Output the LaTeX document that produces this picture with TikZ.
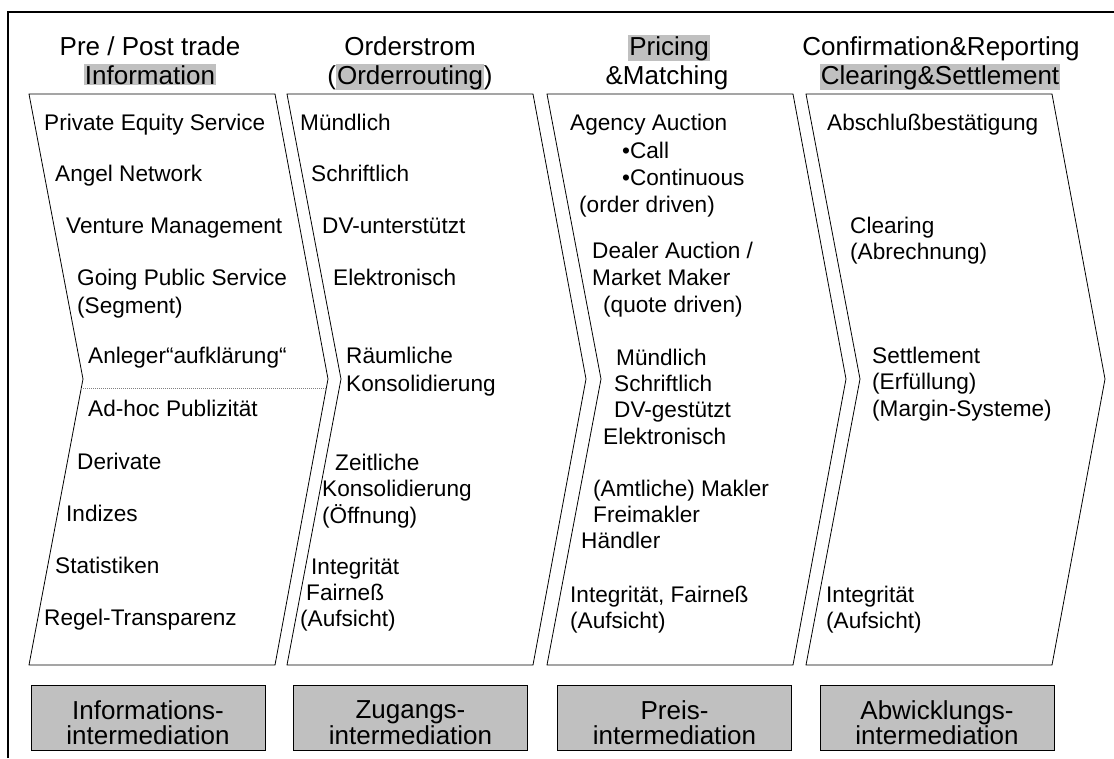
\documentclass[tikz,border=0pt]{standalone}
\usepackage{fontspec}
\setmainfont{Liberation Sans}
\definecolor{hlgray}{RGB}{192,192,192}
\newcommand\hlx[1]{{\setlength{\fboxsep}{1pt}\colorbox{hlgray}{#1}}}
\tikzset{
  body/.style={anchor=base west, inner sep=0pt, font=\fontsize{22.6}{26.5}\selectfont},
  head/.style={anchor=base, inner sep=0pt, font=\fontsize{26}{30}\selectfont},
  chev/.style={draw, line width=0.8pt, line join=miter},
  gbox/.style={draw, fill=hlgray, line width=0.8pt, minimum width=234pt, minimum height=65pt, inner sep=0pt},
  gtext/.style={align=center, inner sep=0pt, font=\fontsize{26}{25.5}\selectfont},
  frameline/.style={line width=1.5pt},
  sepline/.style={draw=gray, line width=0.6pt, dash pattern=on 1pt off 1pt}
}
\begin{document}
\begin{tikzpicture}[x=1pt,y=-1pt]
\useasboundingbox (0,0) rectangle (1114,758);
% frame
\coordinate (fbl) at (8,758);
\coordinate (ftl) at (8,12);
\coordinate (ftr) at (1114,12);
\draw[frameline] (fbl) -- (ftl) -- (ftr);
% chevrons
\foreach \L [count=\i] in {29,287,547,806}{
  \pgfmathsetmacro{\R}{\L+246}
  \draw[chev] (\L,94) -- (\R,94) -- (\R+53,379) -- (\R,665) -- (\L,665) -- (\L+54,379) -- cycle;
}
% dotted separator
\coordinate (sepA) at (81,388);
\coordinate (sepB) at (326,388);
\draw[sepline] (sepA) -- (sepB);
% headers
\node[head] (h1a) at (150,55) {Pre / Post trade};
\node[head] (h1b) at (150,84) {\hlx{Information}};
\node[head] (h2a) at (410,55) {Orderstrom};
\node[head] (h2b) at (410,84) {(\hlx{Orderrouting})};
\node[head] (h3a) at (669,55) {\hlx{Pricing}};
\node[head] (h3b) at (667,84) {\&Matching};
\node[head] (h4a) at (941,55) {Confirmation\&Reporting};
\node[head] (h4b) at (940,84) {\hlx{Clearing\&Settlement}};
% column 1
\node[body] (a1) at (44,130) {Private Equity Service};
\node[body] (a2) at (55,181) {Angel Network};
\node[body] (a3) at (66,233) {Venture Management};
\node[body] (a4) at (77,285) {Going Public Service};
\node[body] (a4b) at (77,313) {(Segment)};
\node[body] (a5) at (88,363) {Anleger“aufklärung“};
\node[body] (a6) at (88,416) {Ad-hoc Publizität};
\node[body] (a7) at (77,469) {Derivate};
\node[body] (a8) at (66,521) {Indizes};
\node[body] (a9) at (55,573) {Statistiken};
\node[body] (a10) at (44,625) {Regel-Transparenz};
% column 2
\node[body] (b1) at (300,130) {Mündlich};
\node[body] (b2) at (311,181) {Schriftlich};
\node[body] (b3) at (322,233) {DV-unterstützt};
\node[body] (b4) at (333,285) {Elektronisch};
\node[body] (b5) at (346,363) {Räumliche};
\node[body] (b5b) at (346,391) {Konsolidierung};
\node[body] (b6) at (335,470) {Zeitliche};
\node[body] (b6b) at (322,496) {Konsolidierung};
\node[body] (b6c) at (322,523) {(Öffnung)};
\node[body] (b7) at (311,574) {Integrität};
\node[body] (b7b) at (306,600) {Fairneß};
\node[body] (b7c) at (300,626) {(Aufsicht)};
% column 3
\node[body] (c1) at (570,130) {Agency Auction};
\node[body] (c1b) at (622,158) {•Call};
\node[body] (c1c) at (622,185) {•Continuous};
\node[body] (c1d) at (579,212) {(order driven)};
\node[body] (c2) at (592,258) {Dealer Auction /};
\node[body] (c2b) at (592,285) {Market Maker};
\node[body] (c2c) at (603,312) {(quote driven)};
\node[body] (c3) at (616,365) {Mündlich};
\node[body] (c3b) at (614,391) {Schriftlich};
\node[body] (c3c) at (614,417) {DV-gestützt};
\node[body] (c3d) at (603,444) {Elektronisch};
\node[body] (c4) at (593,496) {(Amtliche) Makler};
\node[body] (c4b) at (593,522) {Freimakler};
\node[body] (c4c) at (581,548) {Händler};
\node[body] (c5) at (570,602) {Integrität, Fairneß};
\node[body] (c5b) at (570,628) {(Aufsicht)};
% column 4
\node[body] (d1) at (827,130) {Abschlußbestätigung};
\node[body] (d2) at (850,233) {Clearing};
\node[body] (d2b) at (850,259) {(Abrechnung)};
\node[body] (d3) at (872,363) {Settlement};
\node[body] (d3b) at (872,389) {(Erfüllung)};
\node[body] (d3c) at (872,416) {(Margin-Systeme)};
\node[body] (d4) at (826,602) {Integrität};
\node[body] (d4b) at (826,628) {(Aufsicht)};
% bottom boxes
\node[gbox] (g1) at (148,717.5) {};
\node[gbox] (g2) at (410.5,717.5) {};
\node[gbox] (g3) at (674.5,717.5) {};
\node[gbox] (g4) at (937,717.5) {};
\node[gtext] (g1t) at ([yshift=-5pt]g1.center) {Informations-\\intermediation};
\node[gtext] (g2t) at ([yshift=-5pt]g2.center) {Zugangs-\\intermediation};
\node[gtext] (g3t) at ([yshift=-5pt]g3.center) {Preis-\\intermediation};
\node[gtext] (g4t) at ([yshift=-5pt]g4.center) {Abwicklungs-\\intermediation};
\end{tikzpicture}
\end{document}
